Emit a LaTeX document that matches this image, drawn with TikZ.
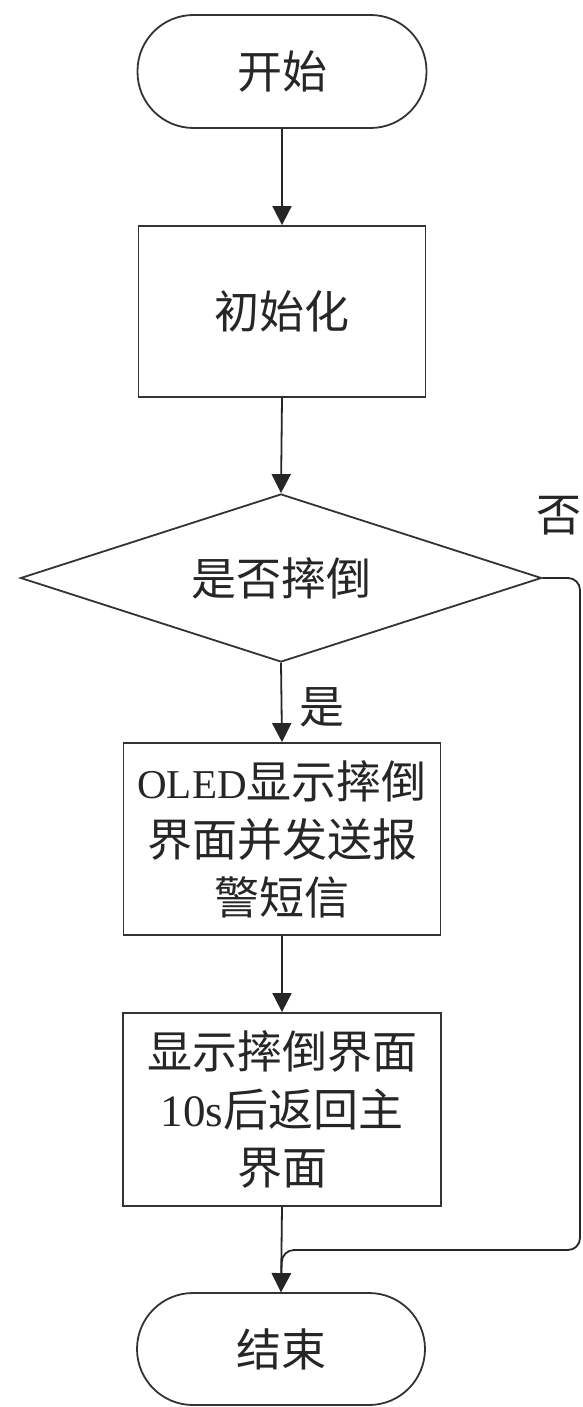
\documentclass[tikz,border=0pt]{standalone}
\usepackage{fontspec}
\setmainfont{Liberation Serif}
\newfontfamily\cjk{Noto Sans CJK SC}
\newfontfamily\lat{Liberation Serif}
\usetikzlibrary{shapes.geometric,arrows.meta}
\begin{document}
\begin{tikzpicture}[x=1pt,y=-1pt,
  txt/.style={font=\fontsize{45}{58}\selectfont\cjk, text=black!85, align=center, inner sep=0pt},
  base/.style={txt, draw=black!80, line width=1.8pt},
  term/.style={base, rounded corners=56pt, minimum width=289pt, minimum height=113pt},
  proc/.style={base, minimum width=287pt, minimum height=171pt},
  decis/.style={base, diamond, shape aspect=3.1, minimum width=521pt, minimum height=168pt},
  conn/.style={line width=1.8pt, draw=black!85, -{Triangle[width=19pt,length=19pt]}},
  latin/.style={}]
\useasboundingbox (0,0) rectangle (583,1407);
\fill[white] (0,0) rectangle (583,1407);
\node[term] (start) at (282,71.5) {开始};
\node[proc] (init) at (282,311.5) {初始化};
\node[decis] (dec) at (281,578) {是否摔倒};
\node[proc, minimum width=317pt, minimum height=192pt] (oled) at (282,839)
  {{\lat\fontsize{41}{58}\selectfont OLED}显示摔倒\\界面并发送报\\警短信};
\node[proc, minimum width=318pt, minimum height=193pt] (show) at (282,1109.5)
  {显示摔倒界面\\{\lat\fontsize{45}{58}\selectfont 10s}后返回主\\界面};
\node[term, minimum width=288pt, minimum height=112pt] (end) at (281,1349) {结束};
\coordinate (r1) at (580,578);
\coordinate (r2) at (580,1250);
\coordinate (m) at (282,1250);
\draw[conn] (start.south) -- (init.north);
\draw[conn] (init.south) -- (dec.north);
\draw[conn] (dec.south) -- (oled.north);
\draw[conn] (oled.south) -- (show.north);
\draw[conn] (show.south) -- (end.north);
\draw[conn, rounded corners=12pt] (dec.east) -- (r1) -- (r2) -- (m) -- (end.north);
\node[txt] (no) at (559,516) {否};
\node[txt] (yes) at (322,707) {是};
\end{tikzpicture}
\end{document}
